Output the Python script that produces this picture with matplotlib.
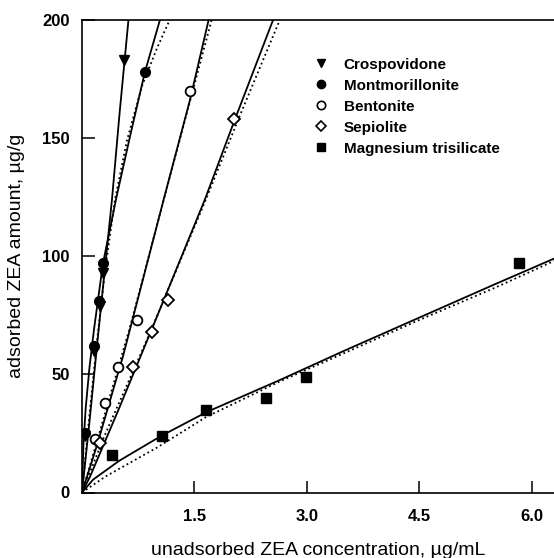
"""
ZEA adsorption isotherms on five adsorbents (points + two fitted curves each).
"""

import matplotlib
matplotlib.use("Agg")
import matplotlib.pyplot as plt
from matplotlib.lines import Line2D

plt.rcParams['font.family'] = ['Liberation Sans', 'DejaVu Sans']

# --- measured points (unadsorbed conc, ug/mL ; adsorbed amount, ug/g) ---
crosp_x = [0.04, 0.16, 0.235, 0.28, 0.56]
crosp_y = [24, 60, 79, 93, 183]
mont_x = [0.04, 0.155, 0.225, 0.285, 0.84]
mont_y = [25, 62, 81, 97, 178]
bent_x = [0.17, 0.31, 0.485, 0.73, 1.44]
bent_y = [22.5, 38, 53, 73, 170]
sep_x = [0.24, 0.68, 0.94, 1.15, 2.03]
sep_y = [21, 53, 68, 81.5, 158]
mag_x = [0.40, 1.07, 1.66, 2.46, 2.99, 5.83]
mag_y = [16, 24, 35, 40, 49, 97]

# --- fitted curves ---
crosp_fit_x = [0, 0.1, 0.2, 0.3, 0.4, 0.5, 0.62]
crosp_fit_y = [0, 30, 62, 93, 124, 160, 200]

mont_fit_x = [0, 0.02, 0.05, 0.1, 0.16, 0.28, 0.46, 0.65, 0.84, 1.04]
mont_fit_y = [0, 21, 36, 53, 69, 97, 125, 152, 178, 200]
mont_dot_x = [0, 0.1, 0.2, 0.3, 0.44, 0.6, 0.8, 1.0, 1.17]
mont_dot_y = [0, 33, 64, 92, 124, 149, 172, 188, 200]

bent_fit_x = [0, 0.2, 0.55, 1.09, 1.44, 1.69]
bent_fit_y = [0, 20, 58, 124, 166, 200]
bent_dot_x = [0, 0.063, 0.64, 1.1, 1.73]
bent_dot_y = [0, 6.7, 70, 125, 200]

sep_fit_x = [0, 0.107, 0.5, 0.93, 1.64, 2.03, 2.55]
sep_fit_y = [0, 6.7, 36, 69, 124, 157, 200]
sep_dot_x = [0, 0.3, 0.9, 1.64, 2.1, 2.64]
sep_dot_y = [0, 24, 67, 123, 159, 200]

mag_fit_x = [0, 0.15, 0.5, 1.06, 1.66, 2.64, 3.5, 4.5, 5.5, 6.3]
mag_fit_y = [0, 5.5, 13.5, 24, 34, 47.6, 60, 74, 88, 99]
mag_dot_x = [0, 0.31, 1.0, 1.66, 2.64, 3.5, 4.5, 5.5, 6.3]
mag_dot_y = [0, 6.7, 19, 32, 47, 59, 73, 86.5, 98]

labels = ['Crospovidone', 'Montmorillonite', 'Bentonite', 'Sepiolite',
          'Magnesium trisilicate']

x_ticks = [1.5, 3.0, 4.5, 6.0]
x_tick_labels = ['1.5', '3.0', '4.5', '6.0']
y_ticks = [0, 50, 100, 150, 200]


def main():
    fig = plt.figure(figsize=(5.54, 5.58), dpi=100)
    ax = fig.add_axes([82 / 554, 1 - 492.5 / 558, 1 - 82 / 554, 472.5 / 558])

    lw = 1.3
    # solid fits
    for fx, fy in [(crosp_fit_x, crosp_fit_y), (mont_fit_x, mont_fit_y),
                   (bent_fit_x, bent_fit_y), (sep_fit_x, sep_fit_y),
                   (mag_fit_x, mag_fit_y)]:
        ax.plot(fx, fy, '-', color='black', lw=lw)
    # dotted fits
    for fx, fy in [(mont_dot_x, mont_dot_y), (bent_dot_x, bent_dot_y),
                   (sep_dot_x, sep_dot_y), (mag_dot_x, mag_dot_y)]:
        ax.plot(fx, fy, ':', color='black', lw=1.3)

    ax.plot(crosp_x, crosp_y, 'v', color='black', ms=7.5, zorder=5)
    ax.plot(mont_x, mont_y, 'o', color='black', ms=7, zorder=5)
    ax.plot(bent_x, bent_y, 'o', mfc='white', mec='black', mew=1.3, ms=7, zorder=5)
    ax.plot(sep_x, sep_y, 'D', mfc='white', mec='black', mew=1.3, ms=6, zorder=5)
    ax.plot(mag_x, mag_y, 's', color='black', ms=6.5, zorder=5)

    ax.set_xlim(0, 6.3)
    ax.set_ylim(0, 200)
    ax.set_xticks(x_ticks)
    ax.set_xticklabels(x_tick_labels)
    ax.set_yticks(y_ticks)
    ax.tick_params(direction='in', length=9, width=1.1, pad=9,
                   labelsize=12)
    ax.tick_params(axis='x', pad=12)
    for lab in ax.get_xticklabels() + ax.get_yticklabels():
        lab.set_fontweight('bold')
    ax.spines['right'].set_visible(False)
    for s in ['left', 'bottom', 'top']:
        ax.spines[s].set_linewidth(1.2)

    ax.set_xlabel('unadsorbed ZEA concentration, µg/mL', fontsize=14, labelpad=13)
    ax.set_ylabel('adsorbed ZEA amount, µg/g', fontsize=14, labelpad=12)

    handles = [
        Line2D([], [], ls='none', marker='v', color='black', ms=6),
        Line2D([], [], ls='none', marker='o', color='black', ms=6),
        Line2D([], [], ls='none', marker='o', mfc='white', mec='black', mew=1.2, ms=6),
        Line2D([], [], ls='none', marker='D', mfc='white', mec='black', mew=1.2, ms=5),
        Line2D([], [], ls='none', marker='s', color='black', ms=6),
    ]
    fig.legend(handles, labels, loc='upper left',
               bbox_to_anchor=(304 / 554, 1 - 50 / 558),
               frameon=False, borderpad=0, handlelength=1.2,
               handletextpad=0.9, labelspacing=0.46,
               prop={'size': 11, 'weight': 'bold'})

    fig.savefig('out.png', dpi=100)
    plt.close(fig)


if __name__ == "__main__":
    main()
